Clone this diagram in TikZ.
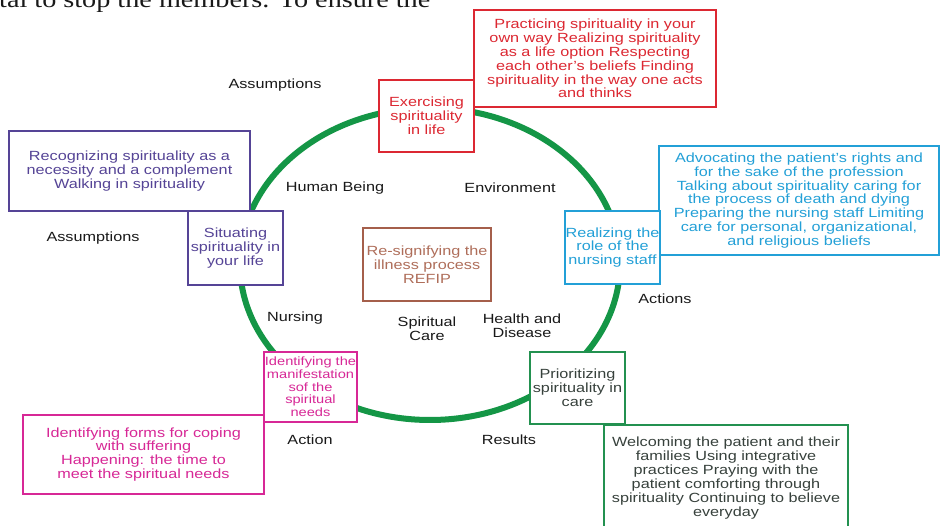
\documentclass[tikz,border=0pt]{standalone}
\usepackage{fontspec}
\setmainfont{Liberation Sans}[FakeStretch=1.22]
\newfontfamily\pagefont{Liberation Serif}[FakeStretch=1.2]
\definecolor{ringgreen}{RGB}{20,150,70}
\definecolor{cred}{RGB}{220,40,50}
\definecolor{cpurple}{RGB}{85,68,150}
\definecolor{ccyan}{RGB}{35,160,215}
\definecolor{cbrown}{RGB}{165,95,75}
\definecolor{cbrowntext}{RGB}{175,110,90}
\definecolor{cmagenta}{RGB}{215,40,150}
\definecolor{cgreen}{RGB}{35,145,80}
\definecolor{cgreentext}{RGB}{55,65,60}
\definecolor{labtext}{RGB}{25,25,25}
\tikzset{
  box/.style={draw, fill=white, line width=1.6, inner sep=0pt, align=center,
    font=\fontsize{13.3}{13.9}\selectfont},
  lab/.style={align=center, inner sep=0pt, text=labtext,
    font=\fontsize{13.3}{14.2}\selectfont},
  ring/.style={draw=ringgreen, line width=6}
}
\begin{document}
\begin{tikzpicture}[x=1pt,y=-1pt]
\clip (0,0) rectangle (940,526);
\fill[white] (0,0) rectangle (940,526);
% top page text
\node[anchor=base west, inner sep=0pt, text=labtext, font=\pagefont\fontsize{23.5}{25}\selectfont] (pagetext) at (-1,8) {tal to stop the members. To ensure the};
% ring
\coordinate (ringc) at (430,264);
\draw[ring] (ringc) ellipse [x radius=190, y radius=156];
% big boxes
\node[box, draw=cred, text=cred, minimum width=242, minimum height=97] (redB) at (595,58.5)
  {Practicing spirituality in your\\own way Realizing spirituality\\as a life option Respecting\\each other's beliefs Finding\\spirituality in the way one acts\\and thinks};
\node[box, draw=cpurple, text=cpurple, minimum width=241, minimum height=80] (purB) at (129.5,171)
  {Recognizing spirituality as a\\necessity and a complement\\Walking in spirituality};
\node[box, draw=ccyan, text=ccyan, minimum width=280, minimum height=109] (cyB) at (799,200.5)
  {Advocating the patient's rights and\\for the sake of the profession\\Talking about spirituality caring for\\the process of death and dying\\Preparing the nursing staff Limiting\\care for personal, organizational,\\and religious beliefs};
\node[box, draw=cmagenta, text=cmagenta, minimum width=241, minimum height=79] (magB) at (143.5,454.5)
  {Identifying forms for coping\\with suffering\\Happening: the time to\\meet the spiritual needs};
\node[box, draw=cgreen, text=cgreentext, minimum width=244, minimum height=106] (grB) at (726,478)
  {Welcoming the patient and their\\families Using integrative\\practices Praying with the\\patient comforting through\\spirituality Continuing to believe\\everyday};
% small boxes on the ring
\node[box, draw=cred, text=cred, minimum width=95, minimum height=72] (redS) at (426.5,116)
  {Exercising\\spirituality\\in life};
\node[box, draw=cpurple, text=cpurple, minimum width=95, minimum height=74] (purS) at (235.5,248)
  {Situating\\spirituality in\\your life};
\node[box, draw=ccyan, text=ccyan, minimum width=95, minimum height=73] (cyS) at (612.5,247.5)
  {Realizing the\\role of the\\nursing staff};
\node[box, draw=cmagenta, text=cmagenta, minimum width=93, minimum height=70,
  font=\fontsize{12}{12.7}\selectfont] (magS) at (310.5,387)
  {Identifying the\\manifestation\\sof the\\spiritual\\needs};
\node[box, draw=cgreen, text=cgreentext, minimum width=95, minimum height=72] (grS) at (577.5,388)
  {Prioritizing\\spirituality in\\care};
% centre box
\node[box, draw=cbrown, text=cbrowntext, minimum width=128, minimum height=73] (centre) at (427,264.5)
  {Re-signifying the\\illness process\\REFIP};
% labels
\node[lab] (assum1) at (275,85) {Assumptions};
\node[lab] (assum2) at (93,238) {Assumptions};
\node[lab] (human) at (335,188) {Human Being};
\node[lab] (env) at (510,188) {Environment};
\node[lab] (nursing) at (295,318) {Nursing};
\node[lab] (spcare) at (427,329) {Spiritual\\Care};
\node[lab] (health) at (522,326) {Health and\\Disease};
\node[lab] (actions) at (665,299) {Actions};
\node[lab] (action) at (310,440) {Action};
\node[lab] (results) at (509,440) {Results};
\end{tikzpicture}
\end{document}
